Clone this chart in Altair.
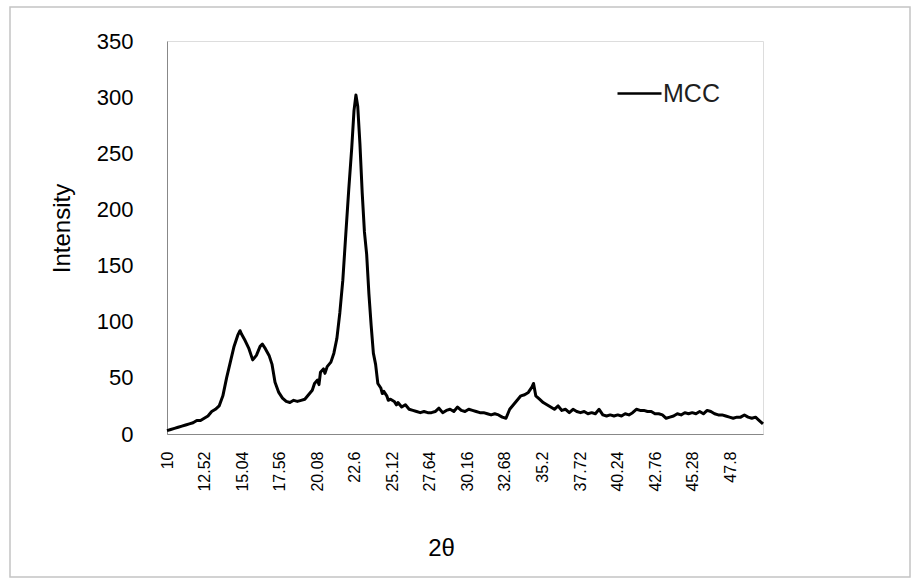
import altair as alt
import pandas as pd

# 2θ positions (degrees) and intensities
two_theta = [
    10.0, 10.25, 10.5, 10.75, 11.0, 11.25, 11.5, 11.75, 12.0, 12.25, 12.5, 12.75,
    13.0, 13.25, 13.5, 13.75, 14.0, 14.25, 14.5, 14.75, 14.9, 15.0, 15.25, 15.5,
    15.75, 16.0, 16.25, 16.4, 16.6, 16.85, 17.05, 17.25, 17.5, 17.75, 18.0, 18.25,
    18.5, 18.75, 19.0, 19.25, 19.5, 19.75, 19.9, 20.1, 20.2, 20.3, 20.5, 20.6, 20.75, 21.0,
    21.2, 21.4, 21.6, 21.8, 22.0, 22.2, 22.4, 22.55, 22.68, 22.8, 22.95, 23.1,
    23.25, 23.4, 23.55, 23.7, 23.85, 24.0, 24.15, 24.35, 24.45, 24.55, 24.75, 24.85, 25.0, 25.25,
    25.4, 25.5, 25.75, 26.0, 26.25, 26.5, 26.75, 27.0, 27.25, 27.5, 27.75, 28.0, 28.25,
    28.5, 28.75, 29.0, 29.25, 29.5, 29.75, 30.0, 30.25, 30.5, 30.75, 31.0, 31.25,
    31.5, 31.75, 32.0, 32.25, 32.5, 32.75, 33.0, 33.25, 33.5, 33.75, 34.0, 34.25,
    34.5, 34.6, 34.75, 35.0, 35.25, 35.5, 35.75, 36.0, 36.25, 36.5, 36.75, 37.0,
    37.25, 37.5, 37.75, 38.0, 38.25, 38.5, 38.75, 39.0, 39.25, 39.5, 39.75, 40.0,
    40.25, 40.5, 40.75, 41.0, 41.25, 41.5, 41.75, 42.0, 42.25, 42.5, 42.75, 43.0,
    43.25, 43.5, 43.75, 44.0, 44.25, 44.5, 44.75, 45.0, 45.25, 45.5, 45.75, 46.0,
    46.25, 46.5, 46.75, 47.0, 47.25, 47.5, 47.75, 48.0, 48.25, 48.5, 48.75, 49.0,
    49.25, 49.5, 49.75, 50.0,
]
intensity = [
    3, 4, 5, 6, 7, 8, 9, 10, 12, 12, 14, 16,
    20, 22, 25, 34, 50, 64, 78, 88, 92, 89, 83, 76,
    66, 70, 78, 80, 76, 70, 62, 46, 37, 32, 29, 28,
    30, 29, 30, 31, 35, 39, 45, 48, 44, 55, 58, 54, 60, 64,
    72, 85, 108, 137, 178, 218, 255, 288, 302, 292, 258, 215,
    180, 160, 125, 97, 72, 62, 45, 41, 36, 38, 34, 30, 31, 29,
    26, 28, 24, 26, 22, 21, 20, 19, 20, 19, 19, 20, 23,
    19, 21, 22, 20, 24, 21, 20, 22, 21, 20, 19, 19,
    18, 17, 18, 17, 15, 14, 22, 26, 30, 34, 35, 37,
    42, 45, 34, 31, 28, 26, 24, 22, 25, 21, 22, 19,
    22, 20, 19, 20, 18, 19, 18, 22, 17, 16, 17, 16,
    17, 16, 18, 17, 19, 22, 21, 21, 20, 20, 18, 18,
    17, 14, 15, 16, 18, 17, 19, 18, 19, 18, 20, 18,
    21, 20, 18, 17, 17, 16, 15, 14, 15, 15, 17, 15,
    14, 15, 12, 9,
]
series_name = "MCC"
x_tick_values = [10, 12.52, 15.04, 17.56, 20.08, 22.6, 25.12, 27.64, 30.16,
                 32.68, 35.2, 37.72, 40.24, 42.76, 45.28, 47.8]
y_tick_values = [0, 50, 100, 150, 200, 250, 300, 350]

df = pd.DataFrame({
    "two_theta": two_theta,
    "intensity": intensity,
    "series": [series_name] * len(two_theta),
})

FONT = "Liberation Sans"
TEXT = "#1f1f1f"
AXIS_GRAY = "#8c8c8c"

line = alt.Chart(df).mark_line(strokeWidth=3, strokeJoin="round").encode(
    x=alt.X(
        "two_theta:Q",
        scale=alt.Scale(domain=[10, 50], nice=False, zero=False),
        axis=alt.Axis(
            title="2θ",
            values=x_tick_values,
            labelExpr="'' + datum.value",
            labelAngle=270,
            labelFontSize=16,
            labelPadding=17,
            ticks=False,
            grid=False,
            labelOverlap=False,
            titleFontSize=24,
            titleFontWeight="normal",
            titleX=274,
            titleY=114,
            titleBaseline="middle",
        ),
    ),
    y=alt.Y(
        "intensity:Q",
        scale=alt.Scale(domain=[0, 350], nice=False),
        axis=alt.Axis(
            title="Intensity",
            values=y_tick_values,
            labelFontSize=22,
            labelPadding=34,
            ticks=False,
            grid=False,
            titleFontSize=24,
            titleFontWeight="normal",
            titleX=-105,
            titleY=187,
            titleBaseline="middle",
        ),
    ),
    color=alt.Color(
        "series:N",
        scale=alt.Scale(range=["#000000"]),
        legend=alt.Legend(
            title=None,
            orient="none",
            legendX=449,
            legendY=29,
            symbolType="stroke",
            symbolSize=1936,
            symbolStrokeWidth=2.5,
            labelFontSize=25,
            labelOffset=0,
            labelFont=FONT,
            labelColor=TEXT,
            padding=0,
        ),
    ),
)

frame = alt.Chart(pd.DataFrame({"k": [0]})).mark_rect(
    filled=False, stroke="#c4c4c4", strokeWidth=1.5
).encode(
    x=alt.value(-157), x2=alt.value(743), y=alt.value(-34), y2=alt.value(536)
)

chart = alt.layer(frame, line).properties(
    width=596,
    height=393,
    autosize="none",
    padding={"left": 167, "top": 41, "right": 149, "bottom": 145},
).configure_view(strokeWidth=0).configure_axis(
    labelFont=FONT,
    titleFont=FONT,
    labelColor=TEXT,
    titleColor=TEXT,
    domainColor=AXIS_GRAY,
    domainWidth=2,
).configure(background="white")

chart.save("out.html", embed_options={"renderer": "svg", "actions": False})
